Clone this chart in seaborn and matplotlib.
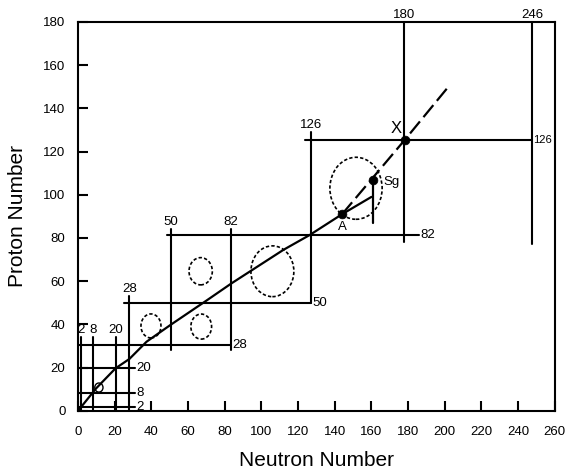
import numpy as np
import pandas as pd
import seaborn as sns
import matplotlib.pyplot as plt
from matplotlib.patches import Ellipse

# stability line (N, Z)
curve_n = [0, 10, 20.5, 28, 37.4, 50.5, 70, 83.7, 112, 126.4, 144]
curve_z = [0, 10.5, 19.7, 24, 32, 39.8, 51, 59, 74.5, 81.4, 91]

# extrapolation beyond A
branch_n = [144, 160]
branch_z = [91, 99]
dash_n = [144, 178.2, 201.8]
dash_z = [91, 125.4, 149.8]

# marked nuclei
point_names = ["A", "Sg", "X"]
point_n = [144, 160.6, 178.2]
point_z = [91, 106.6, 125.4]

# neutron magic numbers (vertical lines)
v_labels = ["2", "8", "20", "28", "50", "82", "126", "180", "246"]
v_pos = [1.5, 8, 20.5, 28, 50.5, 83.5, 127, 178, 247.5]
v_low = [0, 0, 0, 0, 28, 28, 50, 78, 77]
v_high = [34, 34, 34, 53, 84, 84, 129, 180, 180]

# proton magic numbers (horizontal lines)
h_labels = ["2", "8", "20", "28", "50", "82", "126"]
h_pos = [2, 8.5, 20, 30.5, 50, 81.5, 125.5]
h_left = [0, 0, 0, 0, 25, 48.5, 124]
h_right = [31, 31, 31, 83.5, 127, 186, 247.5]

# deformed regions (centre N, centre Z, width, height)
ell_n = [39.8, 67.2, 66.9, 106, 151.6]
ell_z = [39.3, 39, 64.6, 64.6, 103]
ell_w = [10.9, 11.3, 12.7, 23.4, 28.5]
ell_h = [11.1, 11.6, 12.6, 23.5, 28.7]

sns.set_theme(style="white")
plt.rcParams['font.family'] = ['Liberation Sans', 'DejaVu Sans']
plt.rcParams['text.color'] = 'black'
plt.rcParams['axes.labelcolor'] = 'black'
plt.rcParams['xtick.color'] = 'black'
plt.rcParams['ytick.color'] = 'black'

fig = plt.figure(figsize=(5.65, 4.75), dpi=100)
ax = fig.add_axes([0.138, 0.135, 0.844, 0.819])

lw = 1.5
for x, lo, hi, lab in zip(v_pos, v_low, v_high, v_labels):
    ax.plot([x, x], [lo, hi], color='black', lw=lw, clip_on=False)
    ax.text(x, hi + 0.5, lab, ha='center', va='bottom', fontsize=9.5, clip_on=False)

for y, lo, hi, lab in zip(h_pos, h_left, h_right, h_labels):
    ax.plot([lo, hi], [y, y], color='black', lw=lw)
    fs = 8 if lab == "126" else 9.5
    ax.text(hi + 0.8, y, lab, ha='left', va='center', fontsize=fs)

df = pd.DataFrame({'N': curve_n, 'Z': curve_z})
sns.lineplot(data=df, x='N', y='Z', color='black', lw=1.6, ax=ax, sort=False)
ax.plot(branch_n, branch_z, color='black', lw=1.6)
ax.plot([point_n[1], point_n[1]], [point_z[1], 86.8], color='black', lw=1.6)
ax.plot(dash_n, dash_z, color='black', lw=1.6, linestyle=(0, (7, 2.5)))

for cx, cy, w, h in zip(ell_n, ell_z, ell_w, ell_h):
    ax.add_patch(Ellipse((cx, cy), w, h, fill=False, ec='black', lw=1.2,
                         linestyle=(0, (2, 1.3))))
ax.add_patch(Ellipse((11.4, 10.8), 4.5, 4.2, fill=False, ec='black', lw=1.0))

pts = pd.DataFrame({'N': point_n, 'Z': point_z})
sns.scatterplot(data=pts, x='N', y='Z', color='black', s=40, ax=ax, zorder=5,
                edgecolor='black')
ax.text(144.4, 85.3, "A", ha='center', va='center', fontsize=9.5)
ax.text(166.5, 106, "Sg", ha='left', va='center', fontsize=9.5)
ax.text(173.3, 130.5, "X", ha='center', va='center', fontsize=12)

ax.set_xlim(0, 260)
ax.set_ylim(0, 180)
ax.set_xticks(range(0, 261, 20))
ax.set_yticks(range(0, 181, 20))
ax.tick_params(axis='both', direction='in', length=7, width=1.5, labelsize=9.5,
               color='black', labelcolor='black', left=True, bottom=True)
ax.tick_params(axis='x', pad=11)
ax.tick_params(axis='y', pad=9)
for s in ax.spines.values():
    s.set_linewidth(1.5)
    s.set_color('black')
ax.set_xlabel('Neutron Number', fontsize=15, labelpad=9, color='black')
ax.set_ylabel('Proton Number', fontsize=15, labelpad=12, color='black')

fig.savefig('out.png', dpi=100)
